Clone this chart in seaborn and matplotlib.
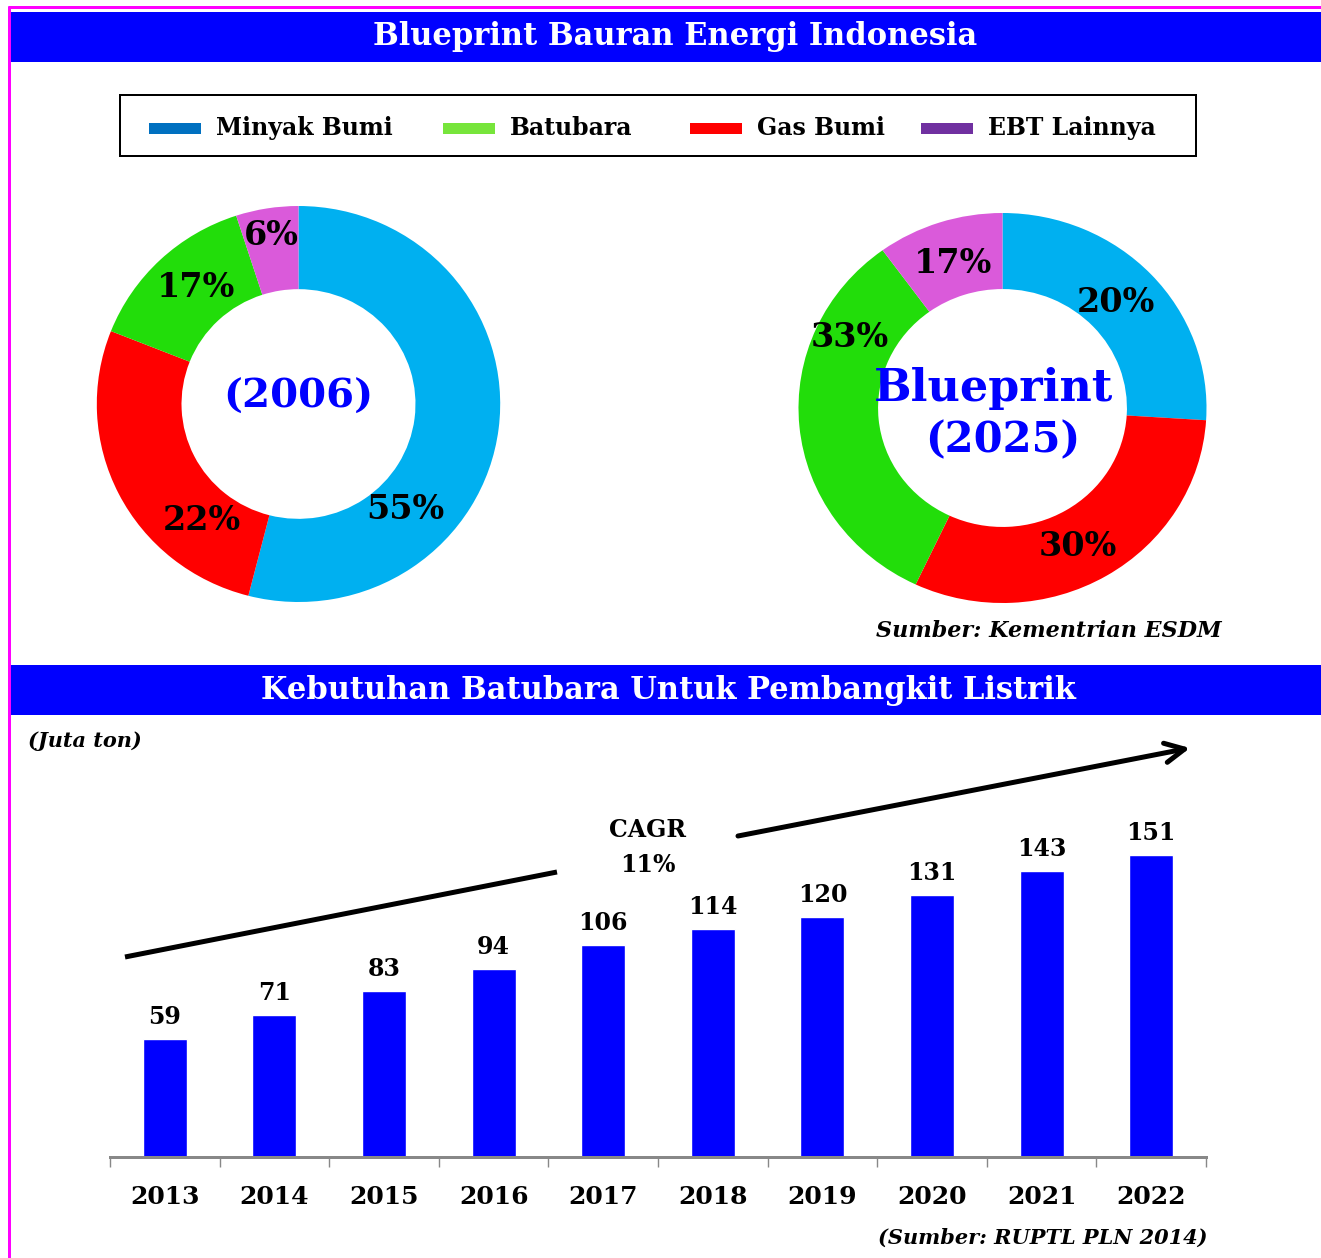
import numpy as np
import pandas as pd
import matplotlib.pyplot as plt
from matplotlib.patches import Rectangle
import seaborn as sns

# figure size in pixels (dpi 100)
W, H = 1321, 1258

# --- data ---
# donut slices, clockwise from 12 o'clock
mix_sources = ['Minyak Bumi', 'Gas Bumi', 'Batubara', 'EBT Lainnya']
mix_2006 = [54, 27, 14, 5]          # wedge sizes as drawn
mix_2006_labels = ['55%', '22%', '17%', '6%']
mix_2025 = [26, 31, 33, 10]         # wedge sizes as drawn
mix_2025_labels = ['20%', '30%', '33%', '17%']

legend_names = ['Minyak Bumi', 'Batubara', 'Gas Bumi', 'EBT Lainnya']

years = ['2013', '2014', '2015', '2016', '2017', '2018', '2019', '2020', '2021', '2022']
coal_demand = [59, 71, 83, 94, 106, 114, 120, 131, 143, 151]
cagr_label = '11%'

# --- colours ---
BLUE = '#0000FF'
pie_colors = ['#00B0F0', '#FF0000', '#22DD0A', '#DA5ADA']
legend_colors = ['#0070C0', '#77E53B', '#FF0000', '#7030A0']

sns.set_style('white')
plt.rcParams['font.family'] = 'DejaVu Serif'
plt.rcParams['font.weight'] = 'bold'
plt.rcParams['text.color'] = 'black'
plt.rcParams['xtick.labelcolor'] = 'black'


def box(x0, y0, x1, y1):
    # pixel box (origin top-left) -> figure fraction rect
    return [x0 / W, 1 - y1 / H, (x1 - x0) / W, (y1 - y0) / H]


def pt(px):
    return px * 0.72


fig = plt.figure(figsize=(W / 100, H / 100), dpi=100)

# background layer in pixel coords for bars, titles and notes
bg = fig.add_axes([0, 0, 1, 1])
bg.set_xlim(0, W)
bg.set_ylim(H, 0)
bg.axis('off')

# magenta frame
bg.plot([9, 9], [6, H], color='#FF00FF', lw=pt(3), solid_capstyle='butt')
bg.plot([8, W], [7, 7], color='#FF00FF', lw=pt(3), solid_capstyle='butt')

# title bars
bg.add_patch(Rectangle((11, 12), W - 11, 50, color=BLUE, lw=0))
bg.text(675, 37, 'Blueprint Bauran Energi Indonesia', color='white',
        fontsize=22, ha='center', va='center')
bg.add_patch(Rectangle((11, 665), W - 11, 50, color=BLUE, lw=0))
bg.text(668, 690, 'Kebutuhan Batubara Untuk Pembangkit Listrik', color='white',
        fontsize=22, ha='center', va='center')

# legend box
bg.add_patch(Rectangle((120, 95), 1076, 61, fill=False, edgecolor='black', lw=pt(2)))
patch_x = [149, 443, 690, 921]
for x, name, c in zip(patch_x, legend_names, legend_colors):
    bg.add_patch(Rectangle((x, 123), 52, 11, color=c, lw=0))
    bg.text(x + 67, 128, name, fontsize=17, ha='left', va='center')

# --- donut 2006 ---
ax1 = fig.add_axes(box(298.5 - 201.7, 404 - 198, 298.5 + 201.7, 404 + 198))
ax1.pie(mix_2006, colors=pie_colors, startangle=90, counterclock=False,
        radius=1, wedgeprops=dict(width=0.42, linewidth=0))
ax1.set_xlim(-1, 1)
ax1.set_ylim(-1, 1)
ax1.set_aspect('auto')
ax1.axis('off')
pos_2006 = [(0.53, -0.535), (-0.48, -0.59), (-0.51, 0.59), (-0.136, 0.85)]
for (x, y), lab in zip(pos_2006, mix_2006_labels):
    ax1.text(x, y, lab, fontsize=24, ha='center', va='center')
ax1.text(0, 0.035, '(2006)', color=BLUE, fontsize=29, ha='center', va='center')

# --- donut 2025 ---
ax2 = fig.add_axes(box(1002.5 - 204, 408 - 195, 1002.5 + 204, 408 + 195))
ax2.pie(mix_2025, colors=pie_colors, startangle=90, counterclock=False,
        radius=1, wedgeprops=dict(width=0.39, linewidth=0))
ax2.set_xlim(-1, 1)
ax2.set_ylim(-1, 1)
ax2.set_aspect('auto')
ax2.axis('off')
pos_2025 = [(0.556, 0.54), (0.37, -0.71), (-0.747, 0.36), (-0.243, 0.74)]
for (x, y), lab in zip(pos_2025, mix_2025_labels):
    ax2.text(x, y, lab, fontsize=24, ha='center', va='center')
ax2.text(-0.045, 0.10, 'Blueprint', color=BLUE, fontsize=32, ha='center', va='center')
ax2.text(0, -0.165, '(2025)', color=BLUE, fontsize=30, ha='center', va='center')

bg.text(1222, 631, 'Sumber: Kementrian ESDM', fontsize=16, style='italic',
        ha='right', va='center')

# --- coal demand bars ---
axb = fig.add_axes(box(110, 745, 1206, 1157))
axb.patch.set_alpha(0)
df = pd.DataFrame({'year': years, 'demand': coal_demand})
sns.barplot(data=df, x='year', y='demand', color=BLUE, saturation=1,
            width=0.4, errorbar=None, ax=axb)
axb.set_xlim(-0.5, len(years) - 0.5)
axb.set_ylim(0, 206)
axb.bar_label(axb.containers[0], labels=[str(v) for v in coal_demand],
              padding=7, fontsize=17, fontweight='bold', color='black')
for s in ['top', 'right', 'left']:
    axb.spines[s].set_visible(False)
axb.spines['bottom'].set_color('#888888')
axb.spines['bottom'].set_linewidth(pt(3))
axb.set_yticks([])
axb.set_xlabel('')
axb.set_ylabel('')
axb.set_xticks(np.arange(-0.5, len(years), 1), minor=True)
axb.tick_params(axis='x', which='major', bottom=False, length=0, pad=20,
                labelsize=18, labelcolor='black')
axb.tick_params(axis='x', which='minor', bottom=True, length=pt(10), width=1,
                color='#888888')
for t in axb.get_xticklabels():
    t.set_fontweight('bold')

bg.text(28, 741, '(Juta ton)', fontsize=15, style='italic', ha='left', va='center')

# CAGR trend arrow
bg.plot([125, 557], [957, 872], color='black', lw=pt(5), solid_capstyle='butt')
bg.annotate('', xy=(1190, 748), xytext=(738, 836),
            arrowprops=dict(arrowstyle='->,head_length=1.4,head_width=0.7',
                            lw=pt(5), color='black', shrinkA=0, shrinkB=0))
bg.text(648, 830, 'CAGR', fontsize=17, ha='center', va='center')
bg.text(648, 865, cagr_label, fontsize=17, ha='center', va='center')

bg.text(1207, 1238, '(Sumber: RUPTL PLN 2014)', fontsize=15, style='italic',
        ha='right', va='center')

fig.savefig('out.png', dpi=100)
